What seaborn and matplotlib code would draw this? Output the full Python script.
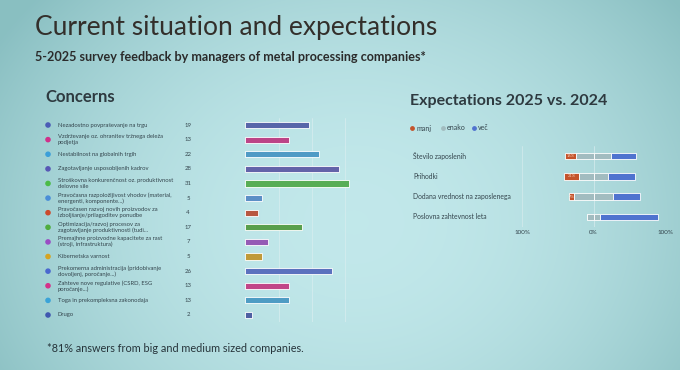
import matplotlib.pyplot as plt
import matplotlib.transforms as mtransforms
import numpy as np
import seaborn as sns

# --- data -----------------------------------------------------------------
concerns = [
    "Nezadostno povpraševanje na trgu",
    "Vzdrževanje oz. ohranitev tržnega deleža\npodjetja",
    "Nestabilnost na globalnih trgih",
    "Zagotavljanje usposobljenih kadrov",
    "Stroškovna konkurenčnost oz. produktivnost\ndelovne sile",
    "Pravočasna razpoložljivost vhodov (material,\nenergenti, komponente...)",
    "Pravočasen razvoj novih proizvodov za\nizboljšanje/prilagoditev ponudbe",
    "Optimizacija/razvoj procesov za\nzagotavljanje produktivnosti (tudi...",
    "Premajhne proizvodne kapacitete za rast\n(stroji, infrastruktura)",
    "Kibernetska varnost",
    "Prekomerna administracija (pridobivanje\ndovoljenj, poročanje...)",
    "Zahteve nove regulative (CSRD, ESG\nporočanje...)",
    "Toga in prekompleksna zakonodaja",
    "Drugo",
]
concern_counts = [19, 13, 22, 28, 31, 5, 4, 17, 7, 5, 26, 13, 13, 2]
concern_colors = ["#4b5cb6", "#d0308a", "#3b9fd9", "#5757b5", "#4bbb47",
                  "#4a8ed8", "#cc4a2c", "#4fad3e", "#9a4cc4", "#d6a422",
                  "#4a68cf", "#d5318a", "#3aa3d8", "#4058b0"]

expect_items = ["Število zaposlenih", "Prihodki",
                "Dodana vrednost na zaposlenega", "Poslovna zahtevnost leta"]
manj = [16, 21, 7, 0]
enako = [48, 41, 55, 19]
vec = [36, 38, 38, 81]
legend_labels = ["manj", "enako", "več"]
legend_colors = ["#c4532b", "#a2bcc0", "#4f73cf"]
x_ticks = [-100, 0, 100]
x_tick_labels = ["100%", "0%", "100%"]

W, H = 680, 370
TXT = "#34454d"

fig = plt.figure(figsize=(6.8, 3.7), dpi=100)

# projected-slide background (light cyan with darker edges)
bg = fig.add_axes([0, 0, 1, 1], zorder=-5)
yy, xx = np.mgrid[0:H, 0:W]
r = ((xx - W * 0.52) / (W * 0.56)) ** 2 + ((yy - H * 0.6) / (H * 0.85)) ** 2
t = np.clip(r, 0, 1.2)[..., None] / 1.2
img = np.array([0.76, 0.91, 0.92]) * (1 - t) + np.array([0.54, 0.75, 0.76]) * t
bg.imshow(img, aspect="auto", extent=[0, 1, 0, 1])
bg.set_axis_off()

sns.set_style("white")
plt.rcParams["font.family"] = ["Lato", "DejaVu Sans"]


def fx(px):
    return px / W


def fy(py):
    return 1 - py / H


fig.text(fx(35), fy(28), "Current situation and expectations", fontsize=19,
         color="#332f2b", va="center", ha="left")
fig.text(fx(35), fy(57), "5-2025 survey feedback by managers of metal processing companies*",
         fontsize=9.1, fontweight="bold", color="#2b2b2b", va="center", ha="left")
fig.text(fx(45), fy(97), "Concerns", fontsize=12, fontweight="bold",
         color="#2e3a40", va="center", ha="left")
fig.text(fx(410), fy(101), "Expectations 2025 vs. 2024", fontsize=11.5,
         fontweight="bold", color="#2e3a40", va="center", ha="left")
fig.text(fx(47), fy(348), "*81% answers from big and medium sized companies.",
         fontsize=7.8, color="#26343a", va="center", ha="left")

# --- left: concerns ---------------------------------------------------------
top, bottom = 117.7, 322.3
ax = fig.add_axes([fx(245), fy(bottom), fx(120.6), (bottom - top) / H])
ax.patch.set_alpha(0)
sns.barplot(x=concern_counts, y=concerns, hue=concerns, order=concerns,
            hue_order=concerns, palette=concern_colors, width=0.42,
            edgecolor="white", linewidth=0.6, legend=False, ax=ax)
ax.set_xlim(0, 36)
ax.set_ylim(len(concerns) - 0.5, -0.5)
for g in [10, 20, 30]:
    ax.axvline(g, color="#d4ecee", lw=0.6, zorder=0)
ax.set_xticks([])
ax.set_yticks([])
ax.set_xlabel("")
ax.set_ylabel("")
sns.despine(ax=ax, left=True, bottom=True)

trans = mtransforms.blended_transform_factory(fig.transFigure, ax.transData)
ax.scatter([fx(48)] * len(concerns), range(len(concerns)), s=9,
           c=concern_colors, transform=trans, clip_on=False, zorder=3)
for i, (lab, n) in enumerate(zip(concerns, concern_counts)):
    ax.text(fx(58), i, lab, transform=trans, fontsize=4.2, color=TXT,
            va="center", ha="left", linespacing=1.1)
    ax.text(fx(188), i, str(n), transform=trans, fontsize=4.3, color=TXT,
            va="center", ha="center")

# --- right: expectations (diverging stacked) --------------------------------
rtop, rbottom = 146, 227
ax2 = fig.add_axes([fx(522), fy(rbottom), fx(143), (rbottom - rtop) / H])
ax2.patch.set_alpha(0)
ypos = np.arange(len(expect_items))
half = np.array(enako) / 2
m = np.array(manj)
v = np.array(vec)
bh = 0.32
kw = dict(height=bh, edgecolor="white", linewidth=0.6)
ax2.barh(ypos, m, left=-half - m, color=legend_colors[0], **kw)
ax2.barh(ypos, half, left=-half, color=legend_colors[1], **kw)
ax2.barh(ypos, half, left=0, color=legend_colors[1], **kw)
ax2.barh(ypos, v, left=half, color=legend_colors[2], **kw)
for i in range(len(expect_items)):
    if m[i] > 0:
        ax2.text(-half[i] - m[i] / 2, i, f"{m[i]}%", fontsize=3, color="#f0c8b0",
                 ha="center", va="center")
ax2.set_xlim(-100, 100)
ax2.set_ylim(len(expect_items) - 0.5, -0.5)
for g in x_ticks:
    ax2.axvline(g, color="#d0e9eb", lw=0.6, zorder=0)
ax2.set_xticks(x_ticks)
ax2.set_xticklabels(x_tick_labels, fontsize=4.5, color=TXT)
ax2.tick_params(axis="x", length=0, pad=2)
ax2.set_yticks([])
sns.despine(ax=ax2, left=True, bottom=True)

trans2 = mtransforms.blended_transform_factory(fig.transFigure, ax2.transData)
for i, lab in enumerate(expect_items):
    ax2.text(fx(413), i, lab, transform=trans2, fontsize=4.9, color=TXT,
             va="center", ha="left")

# legend
lx = [412, 443, 474]
for x0, lab, col in zip(lx, legend_labels, legend_colors):
    ax2.scatter([fx(x0)], [fy(128)], s=6, color=col, transform=fig.transFigure,
                clip_on=False)
    fig.text(fx(x0 + 4), fy(128), lab, fontsize=5, color=TXT, va="center", ha="left")

fig.savefig("out.png", dpi=100)
